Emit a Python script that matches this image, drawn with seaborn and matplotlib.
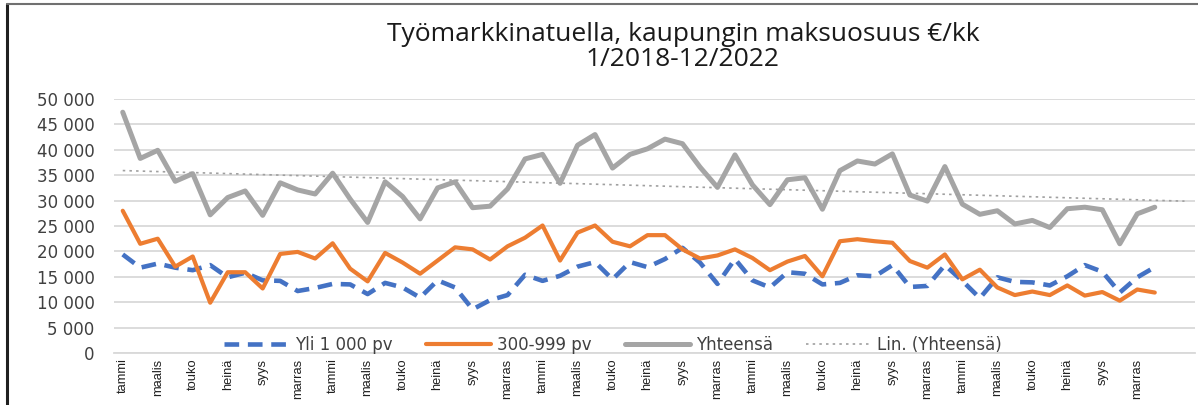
import numpy as np
import pandas as pd
import matplotlib
matplotlib.use("Agg")
import matplotlib.pyplot as plt
from matplotlib.lines import Line2D
import seaborn as sns

# Monthly city share of labour market subsidy, 1/2018-12/2022 (EUR / month)
yli_1000 = [
    19400, 16800, 17600, 16800, 16300, 17300, 14900, 15800, 14300, 14200,
    12200, 12800, 13600, 13500, 11600, 13800, 12900, 10900, 14300, 12900,
    8600, 10400, 11400, 15400, 14200, 15200, 17000, 17900, 14500, 17900,
    16900, 18500, 20700, 17800, 13600, 18500, 14300, 12900, 15900, 15600,
    13500, 13800, 15300, 15100, 17300, 13000, 13200, 17300, 14200, 10800,
    14900, 14000, 13900, 13300, 15100, 17300, 16000, 11900, 14900, 16900,
]
v_300_999 = [
    28000, 21500, 22500, 17000, 19000, 9900, 15900, 15900, 12700, 19500,
    19900, 18600, 21600, 16600, 14100, 19700, 17800, 15600, 18200, 20800,
    20400, 18400, 21000, 22700, 25100, 18200, 23700, 25100, 21900, 21000,
    23200, 23200, 20400, 18600, 19200, 20400, 18700, 16300, 18000, 19100,
    15100, 22000, 22400, 22000, 21700, 18100, 16800, 19400, 14500, 16400,
    12900, 11400, 12100, 11400, 13300, 11300, 12000, 10300, 12500, 11900,
]
yhteensa = [
    47400, 38300, 39900, 33800, 35300, 27200, 30600, 31900, 27100, 33500,
    32100, 31300, 35400, 30300, 25700, 33700, 30800, 26400, 32500, 33700,
    28600, 28900, 32300, 38200, 39100, 33400, 40900, 43000, 36400, 39100,
    40200, 42100, 41200, 36600, 32600, 39000, 33100, 29200, 34100, 34500,
    28300, 35900, 37800, 37200, 39200, 31100, 29900, 36700, 29300, 27300,
    28000, 25400, 26100, 24700, 28400, 28700, 28200, 21500, 27400, 28700,
]
tick_months = ["tammi", "maalis", "touko", "heinä", "syys", "marras"]
years = [2018, 2019, 2020, 2021, 2022]
y_ticks = [0, 5000, 10000, 15000, 20000, 25000, 30000, 35000, 40000, 45000, 50000]

n = len(yhteensa)
df = pd.DataFrame({
    "kk": np.arange(n),
    "Yli 1 000 pv": yli_1000,
    "300-999 pv": v_300_999,
    "Yhteensä": yhteensa,
})

# linear trend of the total, extended a little past the last month
coef = np.polyfit(df["kk"], df["Yhteensä"], 1)
trend_x = np.array([0.0, 60.7])
trend = pd.DataFrame({"kk": trend_x, "Lin. (Yhteensä)": np.polyval(coef, trend_x)})

sns.set_theme(style="white")
plt.rcParams["font.family"] = ["DejaVu Sans"]

W, H = 1198, 405
fig = plt.figure(figsize=(W / 100, H / 100), dpi=100)
ax = fig.add_axes([114 / W, 1 - 353 / H, (1195 - 114) / W, (353 - 99) / H])

BLUE, ORANGE, GREY = "#4472C4", "#ED7D31", "#A5A5A5"

sns.lineplot(data=df, x="kk", y="Yli 1 000 pv", ax=ax, color=BLUE, lw=3.3,
             linestyle=(0, (3.2, 1.9)), label="Yli 1 000 pv")
sns.lineplot(data=df, x="kk", y="300-999 pv", ax=ax, color=ORANGE, lw=3.0,
             label="300-999 pv")
sns.lineplot(data=df, x="kk", y="Yhteensä", ax=ax, color=GREY, lw=3.6,
             label="Yhteensä")
sns.lineplot(data=trend, x="kk", y="Lin. (Yhteensä)", ax=ax, color="#A0A0A0",
             lw=1.2, linestyle=(0, (1.5, 2.5)), label="Lin. (Yhteensä)")

ax.set_xlim(-0.5, 61.3)
ax.set_ylim(0, 50000)
ax.set_yticks(y_ticks)
ax.set_yticklabels([f"{v:,}".replace(",", " ") for v in y_ticks],
                   fontsize=12, color="#404040")
ax.yaxis.grid(True, color="#D9D9D9", lw=1.3)
ax.set_axisbelow(True)

ax.set_xticks(np.arange(0, n, 2))
ax.set_xticklabels(tick_months * len(years), rotation=90,
                   fontsize=9.3, color="#202020", fontweight="medium",
                   family=["Liberation Sans Narrow", "Liberation Sans"])
ax.tick_params(axis="y", length=0, pad=14)
ax.tick_params(axis="x", length=0, pad=4)
ax.set_xlabel("")
ax.set_ylabel("")
for s in ["top", "right", "left"]:
    ax.spines[s].set_visible(False)
ax.spines["bottom"].set_color("#D9D9D9")
ax.spines["bottom"].set_linewidth(1.3)

ax.legend_.remove()
handles, labels = ax.get_legend_handles_labels()
fig.legend(handles, labels, loc="center", ncol=4, frameon=False,
           bbox_to_anchor=(613 / W, 1 - 345 / H), fontsize=12,
           handlelength=3.9, handletextpad=0.35, columnspacing=2.0,
           labelcolor="#404040")

fig.text(683 / W, 1 - 47 / H,
         "Työmarkkinatuella, kaupungin maksuosuus €/kk\n1/2018-12/2022",
         ha="center", va="center", fontsize=19, linespacing=1.0,
         family=["Open Sans", "DejaVu Sans"], color="#1A1A1A")

# frame edges of the chart object
fig.add_artist(Line2D([7 / W, 7 / W], [0, 1 - 4 / H], color="#202020", lw=2.2,
                      transform=fig.transFigure))
fig.add_artist(Line2D([7 / W, 1], [1 - 4 / H, 1 - 4 / H], color="#707070", lw=1.5,
                      transform=fig.transFigure))

fig.savefig("out.png", dpi=100)
